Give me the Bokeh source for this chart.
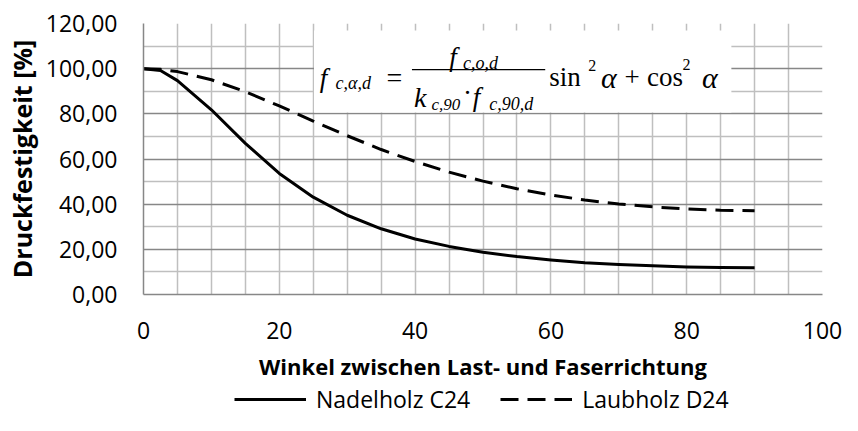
from bokeh.plotting import figure
from bokeh.layouts import column
from bokeh.models import (Range1d, FixedTicker, Grid, CustomJSTickFormatter,
                          BoxAnnotation, Label, Legend, LegendItem)
from bokeh.embed import file_html
from bokeh.resources import INLINE

# ---- data -------------------------------------------------------------
angles = [0, 2.5, 5, 10, 15, 20, 25, 30, 35, 40, 45, 50, 55, 60, 65, 70, 75, 80, 85, 90]
nadelholz_c24 = [100.0, 99.2, 94.7, 81.8, 66.9, 53.6, 43.1, 35.1, 29.1, 24.6, 21.3,
                 18.7, 16.8, 15.3, 14.1, 13.3, 12.7, 12.2, 12.0, 11.9]
laubholz_d24 = [100.0, 99.7, 98.7, 95.1, 89.8, 83.5, 76.8, 70.3, 64.2, 58.9, 54.2,
                50.2, 46.8, 44.1, 41.8, 40.1, 38.8, 37.9, 37.3, 37.1]
series_names = ["Nadelholz C24", "Laubholz D24"]
x_ticks = [0, 20, 40, 60, 80, 100]
y_ticks = [0, 20, 40, 60, 80, 100, 120]
x_title = "Winkel zwischen Last- und Faserrichtung"
y_title = "Druckfestigkeit [%]"

LIGHT = "#bfbfbf"
DARK = "#878787"
FONT = "Open Sans"
DASH = "18 9"

W = 842
H_MAIN = 384
H_LEG = 31
FRAME_L, FRAME_R, FRAME_T, FRAME_B = 143, 822, 23, 294

p = figure(width=W, height=H_MAIN, output_backend="svg", toolbar_location=None,
           x_range=Range1d(0, 100), y_range=Range1d(0, 120),
           min_border_left=FRAME_L, min_border_right=W - FRAME_R,
           min_border_top=FRAME_T, min_border_bottom=H_MAIN - FRAME_B)
p.outline_line_color = None
p.xgrid.visible = False
p.ygrid.visible = False

# grids
p.add_layout(Grid(dimension=0, ticker=FixedTicker(ticks=list(range(5, 101, 5))),
                  grid_line_color=LIGHT, grid_line_width=1.5))
p.add_layout(Grid(dimension=1, ticker=FixedTicker(ticks=list(range(10, 120, 20))),
                  grid_line_color=LIGHT, grid_line_width=1.5))
p.add_layout(Grid(dimension=1, ticker=FixedTicker(ticks=y_ticks),
                  grid_line_color=DARK, grid_line_width=1.5))

# axes
fmt = CustomJSTickFormatter(code="return tick.toFixed(2).replace('.', ',');")
p.yaxis.ticker = FixedTicker(ticks=y_ticks)
p.yaxis.formatter = fmt
p.xaxis.ticker = FixedTicker(ticks=x_ticks)
for ax in (p.xaxis, p.yaxis):
    ax.axis_line_color = DARK
    ax.axis_line_width = 1.5
    ax.major_tick_line_color = None
    ax.minor_tick_line_color = None
    ax.major_label_text_font = FONT
    ax.major_label_text_font_size = "23px"
    ax.major_label_text_color = "black"
    ax.axis_label_text_font = FONT
    ax.axis_label_text_font_style = "bold"
    ax.axis_label_text_color = "black"
p.xaxis.axis_label = x_title
p.yaxis.axis_label = y_title
p.xaxis.axis_label_text_font_size = "22px"
p.yaxis.axis_label_text_font_size = "25px"
p.yaxis.major_label_standoff = 20
p.yaxis.axis_label_standoff = 4
p.xaxis.major_label_standoff = 21
p.xaxis.axis_label_standoff = 9

# series
r1 = p.line(angles, nadelholz_c24, line_color="black", line_width=3, line_join="round")
r2 = p.line(angles, laubholz_d24, line_color="black", line_width=3, line_dash=DASH)

# ---- formula box ---------------------------------------------------------
def dx(px):
    return (px - 143.0) / 6.93


def dy(py):
    return (300.7 - py) / 2.3167


p.add_layout(BoxAnnotation(left=dx(317), right=dx(743), top=dy(30), bottom=dy(114),
                           fill_color="white", fill_alpha=1, line_color=None))
p.add_layout(BoxAnnotation(left=dx(417), right=dx(553), top=dy(69.4), bottom=dy(70.6),
                           fill_color="black", fill_alpha=1, line_color=None))

SERIF = "Liberation Serif"
formula = [
    ("f", 323, 79, 27, "italic"),
    ("c,α,d", 339, 84, 18, "italic"),
    ("=", 391, 78, 28, "normal"),
    ("f", 455, 57, 27, "italic"),
    ("c,o,d", 469, 63, 18, "italic"),
    ("k", 419, 99, 28, "italic"),
    ("c,90", 437, 106, 17, "italic"),
    ("·", 469, 94, 27, "normal"),
    ("f", 479, 98, 27, "italic"),
    ("c,90,d", 496, 105, 18, "italic"),
    ("sin", 557, 78, 27, "normal"),
    ("2", 597, 66, 16, "normal"),
    ("α", 610, 78, 30, "italic"),
    ("+", 634, 78, 27, "normal"),
    ("cos", 657, 78, 27, "normal"),
    ("2", 693, 65, 16, "normal"),
    ("α", 713, 78, 30, "italic"),
]
for txt, px, py, size, style in formula:
    p.add_layout(Label(x=dx(px), y=dy(py), text=txt, text_font=SERIF,
                       text_font_size=f"{size}px", text_font_style=style,
                       text_align="left", text_baseline="alphabetic",
                       text_color="black"))

# ---- legend strip (its frame is aligned with the chart's frame) -------------
pl = figure(width=W, height=H_LEG, output_backend="svg", toolbar_location=None,
            x_axis_location=None, y_axis_location=None,
            min_border_left=FRAME_L, min_border_right=W - FRAME_R,
            min_border_top=0, min_border_bottom=0,
            x_range=Range1d(0, 100), y_range=Range1d(1000, 1001))
pl.outline_line_color = None
pl.grid.visible = False
k1 = pl.line(angles, nadelholz_c24, line_color="black", line_width=3)
k2 = pl.line(angles, laubholz_d24, line_color="black", line_width=3, line_dash=DASH)
legend = Legend(items=[LegendItem(label=series_names[0], renderers=[k1]),
                       LegendItem(label=series_names[1], renderers=[k2])],
                orientation="horizontal", location=(234 - FRAME_L, 0),
                glyph_width=72, glyph_height=20, label_standoff=10, spacing=30,
                label_text_font=FONT, label_text_font_size="23px",
                label_text_color="black",
                border_line_color=None, background_fill_alpha=0,
                padding=0, margin=0)
pl.add_layout(legend)

layout = column(p, pl, spacing=0)
open("out.html", "w").write(file_html(layout, INLINE))
